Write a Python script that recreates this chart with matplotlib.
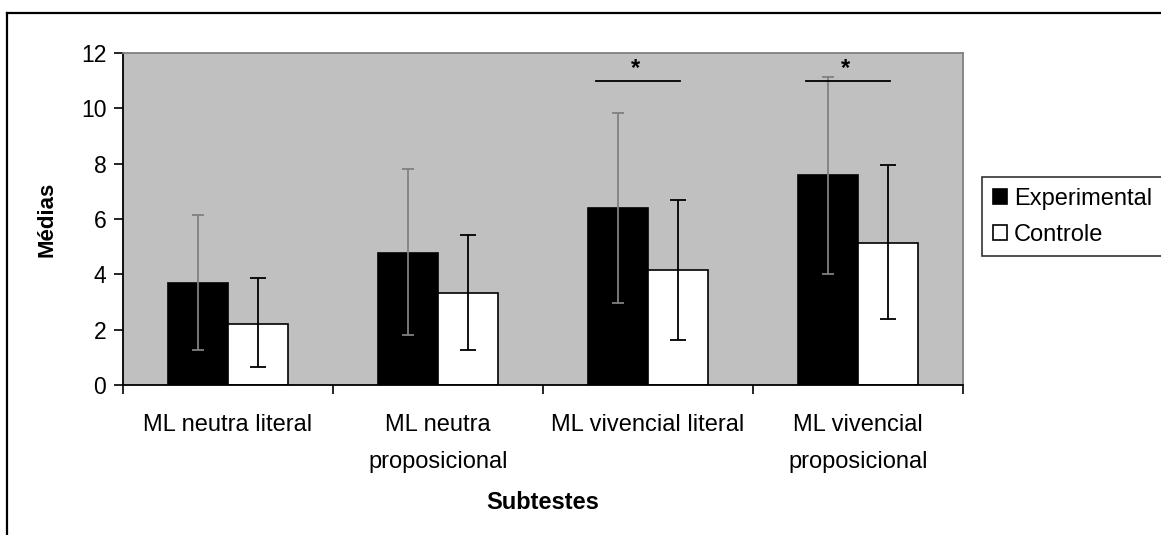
import numpy as np
import matplotlib.pyplot as plt
from matplotlib.lines import Line2D

plt.rcParams['font.family'] = ['Liberation Sans', 'DejaVu Sans']

# Data
categories = ['ML neutra literal', 'ML neutra\nproposicional',
              'ML vivencial literal', 'ML vivencial\nproposicional']
exp_mean = [3.68, 4.78, 6.38, 7.6]
exp_low = [1.28, 1.8, 2.95, 4.02]
exp_high = [6.13, 7.8, 9.82, 11.12]
ctrl_mean = [2.22, 3.32, 4.17, 5.12]
ctrl_low = [0.64, 1.27, 1.64, 2.37]
ctrl_high = [3.88, 5.42, 6.7, 7.95]
sig_groups = [2, 3]
sig_level = 10.97
yticks = [0, 2, 4, 6, 8, 10, 12]

fig = plt.figure(figsize=(11.61, 5.35), dpi=100)
ax = fig.add_axes([123 / 1161, 1 - 385 / 535, 840 / 1161, 332 / 535])
ax.set_facecolor('#c0c0c0')

x = np.arange(len(categories))
w = 0.2857
exp_mean = np.array(exp_mean)
ctrl_mean = np.array(ctrl_mean)

ax.bar(x - w / 2, exp_mean, w, color='black', edgecolor='black', linewidth=1.2,
       label='Experimental', zorder=2)
ax.bar(x + w / 2, ctrl_mean, w, color='white', edgecolor='black', linewidth=1.2,
       label='Controle', zorder=2)

ax.errorbar(x - w / 2, exp_mean,
            yerr=[exp_mean - np.array(exp_low), np.array(exp_high) - exp_mean],
            fmt='none', ecolor='#808080', elinewidth=1.3, capsize=4.3, capthick=1.3, zorder=3)
ax.errorbar(x + w / 2, ctrl_mean,
            yerr=[ctrl_mean - np.array(ctrl_low), np.array(ctrl_high) - ctrl_mean],
            fmt='none', ecolor='black', elinewidth=1.3, capsize=5.8, capthick=1.3, zorder=3)

# significance markers
for g in sig_groups:
    ax.plot([g - 0.25, g + 0.15], [sig_level, sig_level], color='black', lw=1.3, zorder=4)
    ax.text(g - 0.06, sig_level + 0.05, '*', ha='center', va='bottom', fontsize=17,
            fontweight='bold', zorder=4)

ax.set_xlim(-0.5, len(categories) - 0.5)
ax.set_ylim(0, 12)
ax.set_yticks(yticks)
ax.set_yticklabels([str(t) for t in yticks], fontsize=16.5)
ax.set_xticks(np.arange(len(categories) + 1) - 0.5)
ax.set_xticklabels([])
ax.set_xticks(x, minor=True)
ax.set_xticklabels(categories, minor=True, fontsize=17, linespacing=1.85, va='top')
ax.tick_params(axis='x', which='minor', length=0, pad=21)
ax.tick_params(axis='x', which='major', length=6.5, width=1.2, direction='out')
ax.tick_params(axis='y', length=6.5, width=1.2, direction='out', pad=5.5)

for side in ['left', 'bottom']:
    ax.spines[side].set_color('black')
    ax.spines[side].set_linewidth(1.3)
for side in ['top', 'right']:
    ax.spines[side].set_color('#808080')
    ax.spines[side].set_linewidth(1.3)

ax.set_ylabel('Médias', fontsize=16, fontweight='bold', labelpad=17)
ax.set_xlabel('Subtestes', fontsize=17, fontweight='bold', labelpad=13)

leg = fig.legend(loc='upper left', bbox_to_anchor=(982 / 1161, 1 - 177 / 535),
                 fontsize=17, frameon=True, fancybox=False, edgecolor='black',
                 handlelength=0.6, handleheight=0.6, handletextpad=0.3,
                 borderpad=0.45, labelspacing=0.6, borderaxespad=0)
leg.get_frame().set_linewidth(1.2)

# outer chart border (left and top visible)
fig.add_artist(Line2D([7 / 1161, 7 / 1161], [0, 1 - 13 / 535], color='black', lw=1.6,
                      transform=fig.transFigure))
fig.add_artist(Line2D([7 / 1161, 1], [1 - 13 / 535, 1 - 13 / 535], color='black', lw=1.6,
                      transform=fig.transFigure))

fig.savefig('out.png', dpi=100)
